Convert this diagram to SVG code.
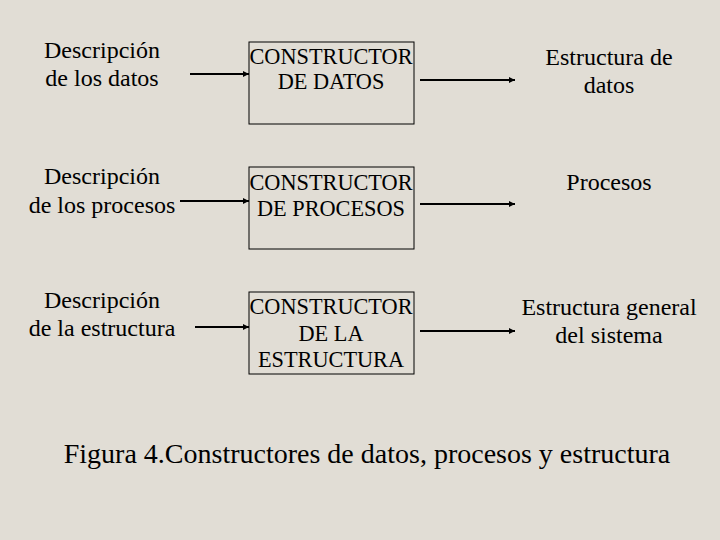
<svg xmlns="http://www.w3.org/2000/svg" width="720" height="540" viewBox="0 0 720 540">
<defs>
<marker id="ah" viewBox="0 0 6 6" refX="6" refY="3" markerWidth="3" markerHeight="3" orient="auto" markerUnits="strokeWidth">
<path d="M0,0 L6,3 L0,6 z" fill="#000"/>
</marker>
<style>
text{font-family:'Liberation Serif','DejaVu Serif',serif;font-size:24px;fill:#000;text-anchor:middle}
.bt{font-size:22.3px}
.box{fill:none;stroke:#000;stroke-width:1}
.ln{stroke:#000;stroke-width:2;fill:none;marker-end:url(#ah)}
.cap{font-size:28px}
</style>
</defs>
<rect width="720" height="540" fill="#e1ddd5"/>
<g id="desc-datos"><text x="102" y="58">Descripción</text><text x="102" y="86">de los datos</text></g>
<g id="desc-procesos"><text x="102" y="184">Descripción</text><text x="102" y="213">de los procesos</text></g>
<g id="desc-estructura"><text x="102" y="308">Descripción</text><text x="102" y="336">de la estructura</text></g>
<g id="cons-datos"><rect class="box" x="249" y="42" width="165" height="82"/><text class="bt" x="331" y="64">CONSTRUCTOR</text><text class="bt" x="331" y="89">DE DATOS</text></g>
<g id="cons-procesos"><rect class="box" x="249" y="167" width="165" height="82"/><text class="bt" x="331" y="190">CONSTRUCTOR</text><text class="bt" x="331" y="216">DE PROCESOS</text></g>
<g id="cons-estructura"><rect class="box" x="249" y="292" width="165" height="82"/><text class="bt" x="331" y="314">CONSTRUCTOR</text><text class="bt" x="331" y="341">DE LA</text><text class="bt" x="331" y="367">ESTRUCTURA</text></g>
<g id="res-datos"><text x="609" y="65">Estructura de</text><text x="609" y="93">datos</text></g>
<g id="res-procesos"><text x="609" y="190">Procesos</text></g>
<g id="res-estructura"><text x="609" y="315">Estructura general</text><text x="609" y="343">del sistema</text></g>
<g id="connectors">
<line class="ln" x1="190" y1="74" x2="249" y2="74"/>
<line class="ln" x1="420" y1="80" x2="515" y2="80"/>
<line class="ln" x1="180" y1="201" x2="249" y2="201"/>
<line class="ln" x1="420" y1="204" x2="515" y2="204"/>
<line class="ln" x1="195" y1="327" x2="249" y2="327"/>
<line class="ln" x1="420" y1="331" x2="515" y2="331"/>
</g>
<text class="cap" x="367" y="463">Figura 4.Constructores de datos, procesos y estructura</text>
</svg>
